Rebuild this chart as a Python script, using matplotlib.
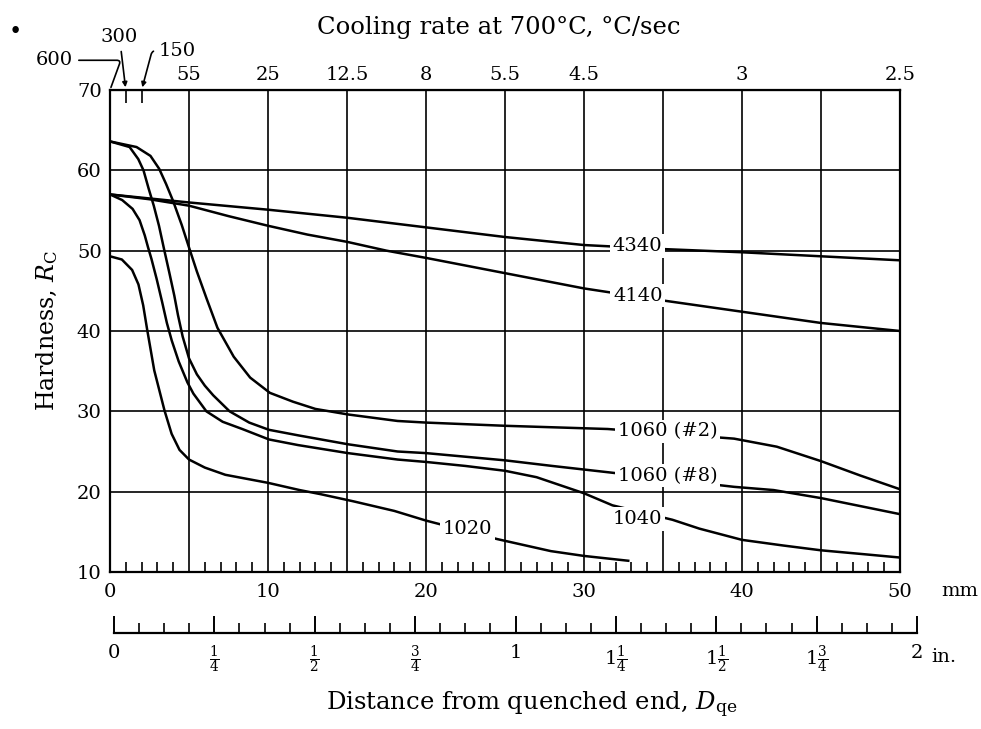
import matplotlib
matplotlib.use('Agg')
import matplotlib.pyplot as plt
from matplotlib.ticker import MultipleLocator

plt.rcParams['font.family'] = ['DejaVu Serif']
plt.rcParams['mathtext.fontset'] = 'dejavuserif'
plt.rcParams['font.size'] = 14

# Jominy end-quench curves: distance (mm) vs Rockwell C hardness
dist_4340 = [0, 2.5, 5, 10, 15, 20, 25, 30, 35, 40, 45, 50]
hrc_4340 = [57, 56.5, 56, 55.1, 54.1, 52.9, 51.7, 50.7, 50.2, 49.8, 49.3, 48.8]

dist_4140 = [0, 2.5, 5, 7.5, 10, 12.5, 15, 17.5, 20, 25, 30, 35, 40, 45, 50]
hrc_4140 = [57, 56.4, 55.6, 54.3, 53.1, 52.0, 51.1, 50.0, 49.1, 47.2, 45.3, 43.8, 42.4, 41.0, 40.0]

dist_1060_2 = [0, 1.68, 2.56, 3.11, 3.55, 3.99, 4.54, 5.0, 5.5, 6.12, 6.8, 7.83, 8.87,
               10.12, 11.58, 13.0, 15.1, 18.2, 20, 25, 31.5, 35.5, 39.5, 42.2, 45, 47.5, 50]
hrc_1060_2 = [63.6, 62.9, 61.8, 60.2, 58.3, 56.2, 53.2, 50.4, 47.4, 44.0, 40.4, 36.8, 34.2,
              32.3, 31.2, 30.3, 29.6, 28.8, 28.6, 28.2, 27.8, 27.2, 26.6, 25.6, 23.8, 22.0, 20.3]

dist_1060_8 = [0, 1.24, 1.79, 2.12, 2.45, 2.77, 3.1, 3.42, 3.75, 4.07, 4.3, 4.6, 5.0, 5.5,
               6.0, 6.53, 7.57, 8.81, 10.06, 11.94, 15.06, 18.2, 20, 25, 28, 31.6, 35.5,
               39.5, 42, 45, 47.5, 50]
hrc_1060_8 = [63.6, 62.9, 61.4, 60.0, 57.7, 55.6, 53.1, 50.2, 47.3, 44.4, 42.0, 39.3, 36.6,
              34.6, 33.2, 32.0, 30.0, 28.6, 27.7, 27.0, 25.9, 25.0, 24.8, 23.9, 23.2, 22.4,
              21.5, 20.6, 20.2, 19.2, 18.2, 17.2]

dist_1040 = [0, 0.77, 1.43, 1.87, 2.2, 2.41, 2.62, 2.95, 3.3, 3.6, 3.91, 4.35, 4.9, 5.28,
             6.1, 7.13, 8.37, 10.06, 11.9, 15.06, 18.2, 20, 22.5, 25, 27, 28.5, 30, 31.8,
             35.6, 37.3, 40, 42.6, 45, 47.8, 50]
hrc_1040 = [57, 56.3, 55.2, 53.8, 51.9, 50.4, 49.0, 46.5, 43.6, 41.0, 38.8, 36.2, 33.6, 32.2,
            30.0, 28.7, 27.8, 26.5, 25.8, 24.8, 24.0, 23.7, 23.2, 22.6, 21.8, 20.8, 19.8, 18.3,
            16.5, 15.4, 14.0, 13.3, 12.7, 12.2, 11.8]

dist_1020 = [0, 0.75, 1.4, 1.8, 2.1, 2.35, 2.8, 3.45, 3.9, 4.4, 5.0, 6.0, 7.3, 10.0, 12.0,
             13.3, 15.4, 18.0, 20.0, 24.5, 27.9, 30.0, 32.8]
hrc_1020 = [49.3, 48.9, 47.6, 45.8, 43.2, 40.2, 35.1, 30.1, 27.2, 25.2, 24.0, 23.0, 22.1,
            21.1, 20.2, 19.7, 18.8, 17.6, 16.4, 14.1, 12.6, 12.0, 11.4]

# curve labels: text, x (mm), y (HRC)
labels = [('4340', 33.4, 50.6), ('4140', 33.4, 44.4), ('1060 (#2)', 35.3, 27.5),
          ('1060 (#8)', 35.3, 22.0), ('1040', 33.4, 16.6), ('1020', 22.6, 15.4)]

# top scale: cooling rate at 700 C for positions along the bar
rate_pos = [5, 10, 15, 20, 25, 30, 40, 50]
rate_lbl = ['55', '25', '12.5', '8', '5.5', '4.5', '3', '2.5']

inch_pos = [0, 0.25, 0.5, 0.75, 1, 1.25, 1.5, 1.75, 2]
inch_lbl = ['0', r'$\frac{1}{4}$', r'$\frac{1}{2}$', r'$\frac{3}{4}$', '1',
            r'$1\frac{1}{4}$', r'$1\frac{1}{2}$', r'$1\frac{3}{4}$', '2']

W, H = 981, 729
fig = plt.figure(figsize=(W / 100, H / 100), dpi=100)
x0, x1 = 110, 900
y0, y1 = 572, 90
ax = fig.add_axes([x0 / W, 1 - y0 / H, (x1 - x0) / W, (y0 - y1) / H])
ax.set_xlim(0, 50)
ax.set_ylim(10, 70)

ax.set_xticks(range(0, 51, 5))
ax.set_xticklabels(['0', '', '10', '', '20', '', '30', '', '40', '', '50'])
ax.xaxis.set_minor_locator(MultipleLocator(1))
ax.tick_params(axis='x', which='major', length=0, pad=8)
ax.tick_params(axis='x', which='minor', direction='in', length=7, width=1.2)
ax.set_yticks(range(10, 71, 10))
ax.tick_params(axis='y', length=0, pad=6)
ax.grid(True, which='major', color='black', lw=1.2)
ax.set_axisbelow(True)
for s in ax.spines.values():
    s.set_linewidth(1.6)

curves = [(dist_4340, hrc_4340), (dist_4140, hrc_4140), (dist_1060_2, hrc_1060_2),
          (dist_1060_8, hrc_1060_8), (dist_1040, hrc_1040), (dist_1020, hrc_1020)]
for d, h in curves:
    ax.plot(d, h, color='black', lw=1.8, zorder=3, solid_joinstyle='round')

for txt, lx, ly in labels:
    ax.text(lx, ly, txt, ha='center', va='center', zorder=5,
            bbox=dict(fc='white', ec='none', pad=2))

ax.set_ylabel(r'Hardness, $R_\mathrm{C}$', fontsize=17, labelpad=12)
ax.annotate('mm', xy=(50, 10), xytext=(30, -14), textcoords='offset points',
            ha='left', va='center', annotation_clip=False)

top = ax.secondary_xaxis('top')
top.set_xticks(rate_pos)
top.set_xticklabels(rate_lbl)
top.set_xticks([1, 2], minor=True)
top.tick_params(which='major', length=0, pad=4)
top.tick_params(which='minor', direction='in', length=9, width=1.2)

arrow = dict(arrowstyle='-|>', color='black', lw=1.2, mutation_scale=7)
ax.annotate('600', xy=(0, 70), xytext=(-3.5, 73.7), ha='center', va='center',
            annotation_clip=False,
            arrowprops=dict(arrowstyle='-', color='black', lw=1.2,
                            connectionstyle='angle,angleA=0,angleB=70,rad=4'))
ax.annotate('300', xy=(1, 70), xytext=(0.6, 76.6), ha='center', va='center',
            annotation_clip=False, arrowprops=arrow)
ax.annotate('150', xy=(2, 70), xytext=(3.1, 74.9), ha='left', va='center',
            annotation_clip=False,
            arrowprops=dict(arrow, connectionstyle='angle,angleA=0,angleB=75,rad=4'))

fig.text(0.508, 0.962, 'Cooling rate at 700°C, °C/sec', ha='center', va='center',
         fontsize=17.5)
fig.text(0.016, 0.956, '•', ha='center', va='center', fontsize=16)

# inch scale below the plot
ix0, ix1, iy = 114, 917, 633
axi = fig.add_axes([ix0 / W, 1 - iy / H, (ix1 - ix0) / W, 0.02])
axi.patch.set_visible(False)
for k in ['top', 'left', 'right']:
    axi.spines[k].set_visible(False)
axi.spines['bottom'].set_linewidth(1.6)
axi.set_xlim(0, 2)
axi.set_yticks([])
axi.set_xticks(inch_pos)
axi.set_xticklabels(inch_lbl)
axi.xaxis.set_minor_locator(MultipleLocator(1 / 16))
axi.tick_params(which='major', direction='in', length=12, width=1.4, pad=8)
axi.tick_params(which='minor', direction='in', length=7, width=1.2)
axi.annotate('in.', xy=(2, 0), xycoords=('data', 'axes fraction'), xytext=(10, -17),
             textcoords='offset points', ha='left', va='center', annotation_clip=False)
axi.set_xlabel(r'Distance from quenched end, $D_\mathrm{qe}$', fontsize=17.5)
axi.xaxis.set_label_coords(0.52, -3.9)

fig.savefig('out.png', dpi=100, facecolor='white')
